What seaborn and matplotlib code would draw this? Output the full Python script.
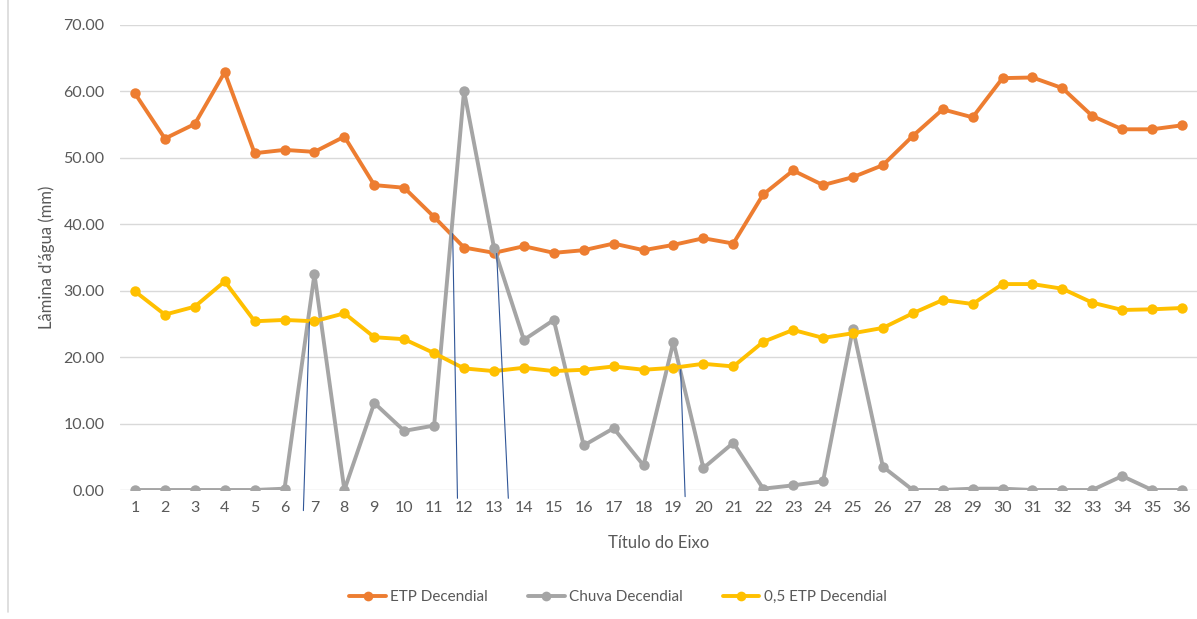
import matplotlib
matplotlib.use("Agg")
import matplotlib.pyplot as plt
from matplotlib.lines import Line2D
import seaborn as sns
import pandas as pd

# Decendial periods (1..36) and water depths in mm
decendios = list(range(1, 37))
etp_decendial = [59.7, 52.9, 55.1, 62.9, 50.7, 51.2, 50.9, 53.2, 45.9, 45.5,
                 41.1, 36.5, 35.7, 36.7, 35.7, 36.1, 37.1, 36.1, 36.9, 37.9,
                 37.1, 44.5, 48.1, 45.9, 47.1, 48.9, 53.3, 57.3, 56.1, 62.0,
                 62.1, 60.5, 56.3, 54.3, 54.3, 54.9]
chuva_decendial = [0.0, 0.0, 0.0, 0.0, 0.0, 0.2, 32.5, 0.0, 13.1, 8.9,
                   9.7, 60.1, 36.5, 22.6, 25.6, 6.7, 9.3, 3.7, 22.3, 3.3,
                   7.1, 0.2, 0.7, 1.3, 24.3, 3.5, 0.0, 0.0, 0.2, 0.2,
                   0.0, 0.0, 0.0, 2.1, 0.0, 0.0]
meia_etp_decendial = [29.9, 26.4, 27.6, 31.4, 25.4, 25.6, 25.4, 26.6, 23.0, 22.7,
                      20.6, 18.3, 17.9, 18.4, 17.9, 18.1, 18.6, 18.1, 18.4, 19.0,
                      18.6, 22.3, 24.1, 22.9, 23.6, 24.4, 26.6, 28.6, 28.0, 31.0,
                      31.0, 30.3, 28.2, 27.1, 27.2, 27.4]

series_names = ["ETP Decendial", "Chuva Decendial", "0,5 ETP Decendial"]
series_colors = ["#ED7D31", "#A5A5A5", "#FFC000"]
y_ticks = [0, 10, 20, 30, 40, 50, 60, 70]

# Hand-drawn guide strokes marking the crossings (x0, y0, x1, y1 in data units)
guide_strokes = [
    (6.63, -3.1, 6.83, 25.3),
    (11.78, -1.25, 11.62, 38.6),
    (13.48, -1.25, 13.09, 35.6),
    (19.39, -1.0, 19.24, 18.1),
]

sns.set_theme(style="white")
plt.rcParams["font.family"] = ["Lato", "DejaVu Sans"]

df = pd.DataFrame({
    "decendio": decendios * 3,
    "valor": etp_decendial + chuva_decendial + meia_etp_decendial,
    "serie": [series_names[0]] * 36 + [series_names[1]] * 36 + [series_names[2]] * 36,
})

fig = plt.figure(figsize=(11.97, 6.19), dpi=100)
ax = fig.add_axes([120 / 1197, 1 - 490 / 619, 1077 / 1197, 465 / 619])

sns.lineplot(data=df, x="decendio", y="valor", hue="serie",
             hue_order=series_names, palette=series_colors,
             marker="o", markersize=7.5, markeredgewidth=0,
             linewidth=2.8, ax=ax, legend=False, zorder=3)

ax.set_xlim(0.5, 36.5)
ax.set_ylim(0, 70)
ax.set_yticks(y_ticks)
ax.set_yticklabels([f"{v:.2f}" for v in y_ticks])
ax.set_xticks(decendios)
ax.set_xticklabels([str(d) for d in decendios])
ax.grid(axis="y", color="#D9D9D9", linewidth=1.0, zorder=0)
ax.grid(axis="x", visible=False)
for side in ["top", "right", "left", "bottom"]:
    ax.spines[side].set_visible(False)
ax.tick_params(axis="both", length=0, colors="#595959", labelsize=11.5)
ax.tick_params(axis="y", pad=11)
ax.tick_params(axis="x", pad=8)

ax.set_xlabel("Título do Eixo", fontsize=12, color="#595959", labelpad=14)
ax.set_ylabel("Lâmina d'água (mm)", fontsize=12, color="#595959", labelpad=6)

for x0, y0, x1, y1 in guide_strokes:
    ax.plot([x0, x1], [y0, y1], color="#2F5597", linewidth=0.8,
            clip_on=False, zorder=4)

handles = [Line2D([0], [0], color=c, linewidth=2.8, marker="o",
                  markersize=7, markeredgewidth=0) for c in series_colors]
fig.legend(handles, series_names, loc="center",
           bbox_to_anchor=(618 / 1197, 1 - 597 / 619), ncol=3,
           frameon=False, fontsize=11, handlelength=2.4, handletextpad=0.3,
           columnspacing=2.6, labelcolor="#595959")

# chart area border on the left
fig.add_artist(Line2D([8 / 1197, 8 / 1197], [1 - 612 / 619, 1.0],
                      transform=fig.transFigure, color="#D9D9D9", linewidth=1.2))

fig.savefig("out.png", dpi=100)
